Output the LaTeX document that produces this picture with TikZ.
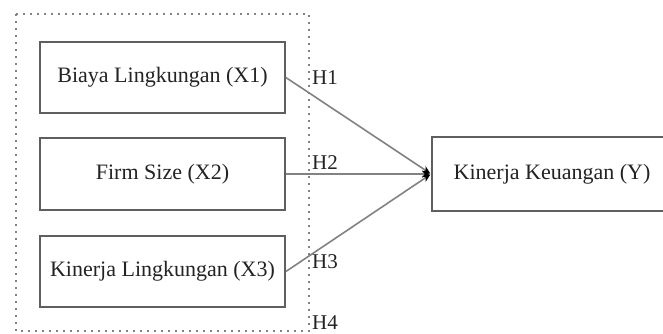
\documentclass[tikz,border=0pt]{standalone}
\usepackage{fontspec}
\setmainfont{Liberation Serif}
\usetikzlibrary{arrows.meta}
\definecolor{boxline}{RGB}{95,95,95}
\definecolor{conline}{RGB}{130,130,130}
\definecolor{txt}{RGB}{35,35,35}
\tikzset{
  varbox/.style={draw=boxline, line width=1.8pt, minimum width=245pt, minimum height=71pt, inner sep=0pt, text=txt, font=\fontsize{22}{26}\selectfont},
  hlabel/.style={anchor=west, inner sep=0pt, text=txt, font=\fontsize{21}{25}\selectfont},
  conn/.style={draw=conline, line width=1.6pt, -{Stealth[length=8pt,width=7pt,black]}, shorten >=1pt},
  frame/.style={draw=conline, line width=1.6pt, dash pattern=on 1.6pt off 5.4pt}
}
\begin{document}
\begin{tikzpicture}[x=1pt,y=-1pt]
\useasboundingbox (0,0) rectangle (663,333);
\clip (0,0) rectangle (663,333);
\fill[white] (0,0) rectangle (663,333);
\draw[frame] (16,14) rectangle (309,331);
\node[varbox] (x1) at (162.5,77.5) {Biaya Lingkungan (X1)};
\node[varbox, minimum height=72pt] (x2) at (162.5,174) {Firm Size (X2)};
\node[varbox] (x3) at (162.5,271.5) {Kinerja Lingkungan (X3)};
\node[varbox, minimum height=74pt] (y) at (554.5,174) {\hspace*{-5pt}Kinerja Keuangan (Y)};
\coordinate (m) at (y.west);
\draw[conn] (x1.east) -- (m);
\draw[conn] (x2.east) -- (m);
\draw[conn] (x3.east) -- (m);
\node[hlabel] (h1) at (312,77.5) {H1};
\node[hlabel] (h2) at (312,162.5) {H2};
\node[hlabel] (h3) at (312,261.5) {H3};
\node[hlabel] (h4) at (312,323) {H4};
\end{tikzpicture}
\end{document}
